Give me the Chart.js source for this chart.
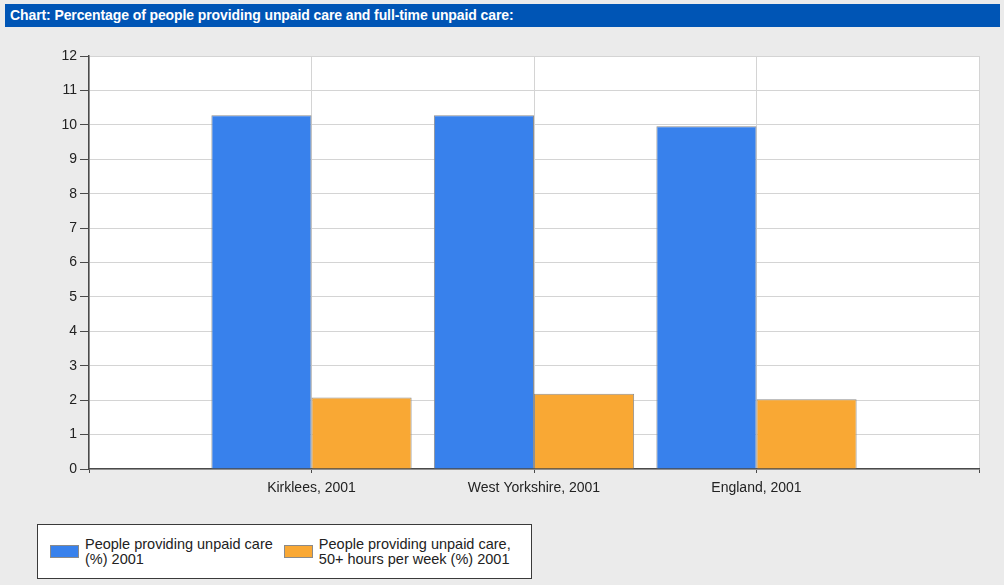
<!DOCTYPE html>
<html>
<head>
<meta charset="utf-8">
<script src="https://cdn.jsdelivr.net/npm/chart.js@4"></script>
<style>
  html, body { margin:0; padding:0; }
  body { width:1004px; height:585px; background:#ebebeb; position:relative; overflow:hidden;
         font-family:"Liberation Sans", Arial, sans-serif; }
  .title-bar { position:absolute; left:5px; top:4px; width:995px; height:23px; background:#0055b5;
               color:#fff; font-weight:bold; font-size:14px; letter-spacing:-0.1px; line-height:23px;
               padding-left:5px; box-sizing:border-box; }
  .chart-box { position:absolute; left:0; top:28px; width:1004px; height:480px; }
  .legend { position:absolute; left:37px; top:524px; width:495px; height:55px; box-sizing:border-box;
            background:#fff; border:1.5px solid #3a3a3a; display:flex; align-items:center; padding-left:12px; }
  .legend-item { display:flex; align-items:center; margin-right:11px; }
  .swatch { width:29px; height:13px; border:1px solid #8a8a8a; box-sizing:border-box; margin-right:6px; }
  .legend-text { font-size:14.5px; line-height:15px; color:#222; }
</style>
</head>
<body>
<div class="title-bar">Chart: Percentage of people providing unpaid care and full-time unpaid care:</div>
<div class="chart-box"><canvas id="careChart"></canvas></div>
<div class="legend" id="legend"></div>

<script>
// categories sit on the inner ticks; the outer slots stay empty
const categories = ['', 'Kirklees, 2001', 'West Yorkshire, 2001', 'England, 2001', ''];
const unpaidCare = [null, 10.28, 10.28, 9.96, null];
const unpaidCare50h = [null, 2.08, 2.19, 2.03, null];
const seriesNames = [
  ['People providing unpaid care', '(%) 2001'],
  ['People providing unpaid care,', '50+ hours per week (%) 2001']
];
const seriesColors = ['#3881ec', '#f9a834'];
const yTicks = [0, 1, 2, 3, 4, 5, 6, 7, 8, 9, 10, 11, 12];

const axisColor = '#4a4a4a';
const gridColor = '#d4d4d4';
const tickFont = {family:'"Liberation Sans", Arial, sans-serif', size:14};

// white plot area on the grey page
const plotBackground = {
  id: 'plotBackground',
  beforeDraw(chart) {
    const {ctx, chartArea: a} = chart;
    ctx.save();
    ctx.fillStyle = '#fff';
    ctx.fillRect(a.left, a.top, a.right - a.left, a.bottom - a.top);
    ctx.restore();
  }
};

new Chart(document.getElementById('careChart').getContext('2d'), {
  type: 'bar',
  data: {
    labels: categories,
    datasets: [unpaidCare, unpaidCare50h].map((d, i) => ({
      label: seriesNames[i].join(' '),
      data: d,
      backgroundColor: seriesColors[i],
      borderColor: '#8f8f8f',
      borderWidth: 1,
      barPercentage: 1,
      categoryPercentage: 0.9
    }))
  },
  options: {
    responsive: true, maintainAspectRatio: false, animation: false,
    layout: {padding: {top: 28, right: 25, left: 0, bottom: 0}},
    plugins: {legend: {display: false}, tooltip: {enabled: false}},
    scales: {
      x: {
        offset: false,
        grid: {offset: false, color: gridColor, tickColor: axisColor, tickLength: 4, lineWidth: 1},
        border: {color: axisColor, width: 1.5},
        ticks: {color: '#222', font: tickFont, padding: 7, autoSkip: false, maxRotation: 0},
        afterFit: s => { s.height = 39; }
      },
      y: {
        min: yTicks[0], max: yTicks[yTicks.length - 1],
        afterBuildTicks: s => { s.ticks = yTicks.map(v => ({value: v})); },
        grid: {color: gridColor, tickColor: axisColor, tickLength: 9, lineWidth: 1},
        border: {color: axisColor, width: 1.5},
        ticks: {color: '#222', font: tickFont, padding: 3},
        afterFit: s => { s.width = 89; }
      }
    }
  },
  plugins: [plotBackground]
});

// legend box with two-line labels
document.getElementById('legend').innerHTML = seriesNames.map((n, i) => `
  <div class="legend-item">
    <div class="swatch" style="background:${seriesColors[i]}"></div>
    <div class="legend-text">${n.join('<br>')}</div>
  </div>`).join('');
</script>
</body>
</html>
